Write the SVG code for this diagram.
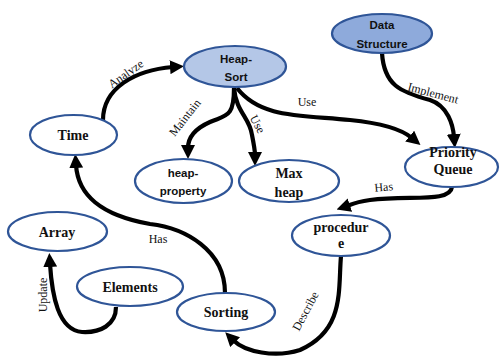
<svg xmlns="http://www.w3.org/2000/svg" width="503" height="360" viewBox="0 0 503 360">
<style>
.n{stroke:#2f5597;stroke-width:2.2;fill:#fff}
.a{fill:#b4c7e7}
.b{fill:#8eaadb}
.t{font-family:"Liberation Serif",serif;font-weight:bold;font-size:14px;text-anchor:middle;fill:#111}
.s{font-family:"Liberation Sans",sans-serif;font-weight:bold;font-size:11.5px;text-anchor:middle;fill:#111}
.l{font-family:"Liberation Serif",serif;font-size:12px;text-anchor:middle;fill:#111}
.e{fill:none;stroke:#000;stroke-width:4.2;marker-end:url(#ah)}
</style>
<defs>
<marker id="ah" markerUnits="userSpaceOnUse" markerWidth="14" markerHeight="14" refX="3" refY="7" orient="auto">
<path d="M0,0 L14,7 L0,14 z" fill="#000"/>
</marker>
</defs>
<g id="connectors">
<path class="e" d="M103,120 C103,88 135,70 173,67"/>
<path class="e" d="M234,88 C234,118 226,115 210,122 C192,130 188,140 188,148"/>
<path class="e" d="M234,88 C236,112 250,118 252,135 C254,145 255,150 255,155"/>
<path class="e" d="M237,88 C260,118 300,115 350,120 C380,123 400,128 412,138"/>
<path class="e" d="M382,53 C384,85 400,92 430,100 C448,106 453,125 454,137"/>
<path class="e" d="M452,187 C450,203 410,195 370,200 C355,202 350,205 347,206"/>
<path class="e" d="M341,256 C338,290 345,330 300,350 C275,358 245,352 233,340"/>
<path class="e" d="M225,293 C225,250 185,228 150,224 C100,215 78,195 76,165"/>
<path class="e" d="M116,307 C116,325 100,333 82,332 C58,330 52,295 50,264"/>
</g>
<g id="edge-labels">
<text class="l" transform="translate(128,77) rotate(-35)">Analyze</text>
<text class="l" transform="translate(188,120) rotate(-52)">Maintain</text>
<text class="l" transform="translate(254,126) rotate(62)">Use</text>
<text class="l" x="307" y="106">Use</text>
<text class="l" transform="translate(432,97) rotate(15)">Implement</text>
<text class="l" transform="translate(384,191) rotate(-5)">Has</text>
<text class="l" transform="translate(309,313) rotate(-62)">Describe</text>
<text class="l" x="158" y="243">Has</text>
<text class="l" transform="translate(47,295) rotate(-90)">Update</text>
</g>
<g id="heap-sort"><ellipse class="n a" cx="235" cy="66.5" rx="51" ry="20.5"/><text class="s" x="236" y="63">Heap-</text><text class="s" x="236" y="81">Sort</text></g>
<g id="data-structure"><ellipse class="n b" cx="382" cy="33.5" rx="50" ry="19.5"/><text class="s" x="382" y="29">Data</text><text class="s" x="382" y="48">Structure</text></g>
<g id="time"><ellipse class="n" cx="73.5" cy="135" rx="43.5" ry="20"/><text class="t" x="73" y="140">Time</text></g>
<g id="heap-property"><ellipse class="n" cx="183.5" cy="181" rx="48.5" ry="22"/><text class="s" x="183" y="177">heap-</text><text class="s" x="183" y="195">property</text></g>
<g id="max-heap"><ellipse class="n" cx="289" cy="181" rx="50" ry="21"/><text class="t" x="289" y="178">Max</text><text class="t" x="289" y="197">heap</text></g>
<g id="priority-queue"><ellipse class="n" cx="451.5" cy="167" rx="46.5" ry="20"/><text class="t" x="453" y="157" font-size="13">Priority</text><text class="t" x="453" y="174" font-size="13">Queue</text></g>
<g id="procedure"><ellipse class="n" cx="341" cy="235.5" rx="49" ry="20.5"/><text class="t" x="341" y="232" font-size="11.5">procedur</text><text class="t" x="341" y="248" font-size="11.5">e</text></g>
<g id="array"><ellipse class="n" cx="57.5" cy="231.5" rx="49.5" ry="19.5"/><text class="t" x="57" y="237">Array</text></g>
<g id="elements"><ellipse class="n" cx="130" cy="286.5" rx="53" ry="19.5"/><text class="t" x="130" y="292">Elements</text></g>
<g id="sorting"><ellipse class="n" cx="226" cy="312" rx="49" ry="19"/><text class="t" x="226" y="317">Sorting</text></g>
</svg>
